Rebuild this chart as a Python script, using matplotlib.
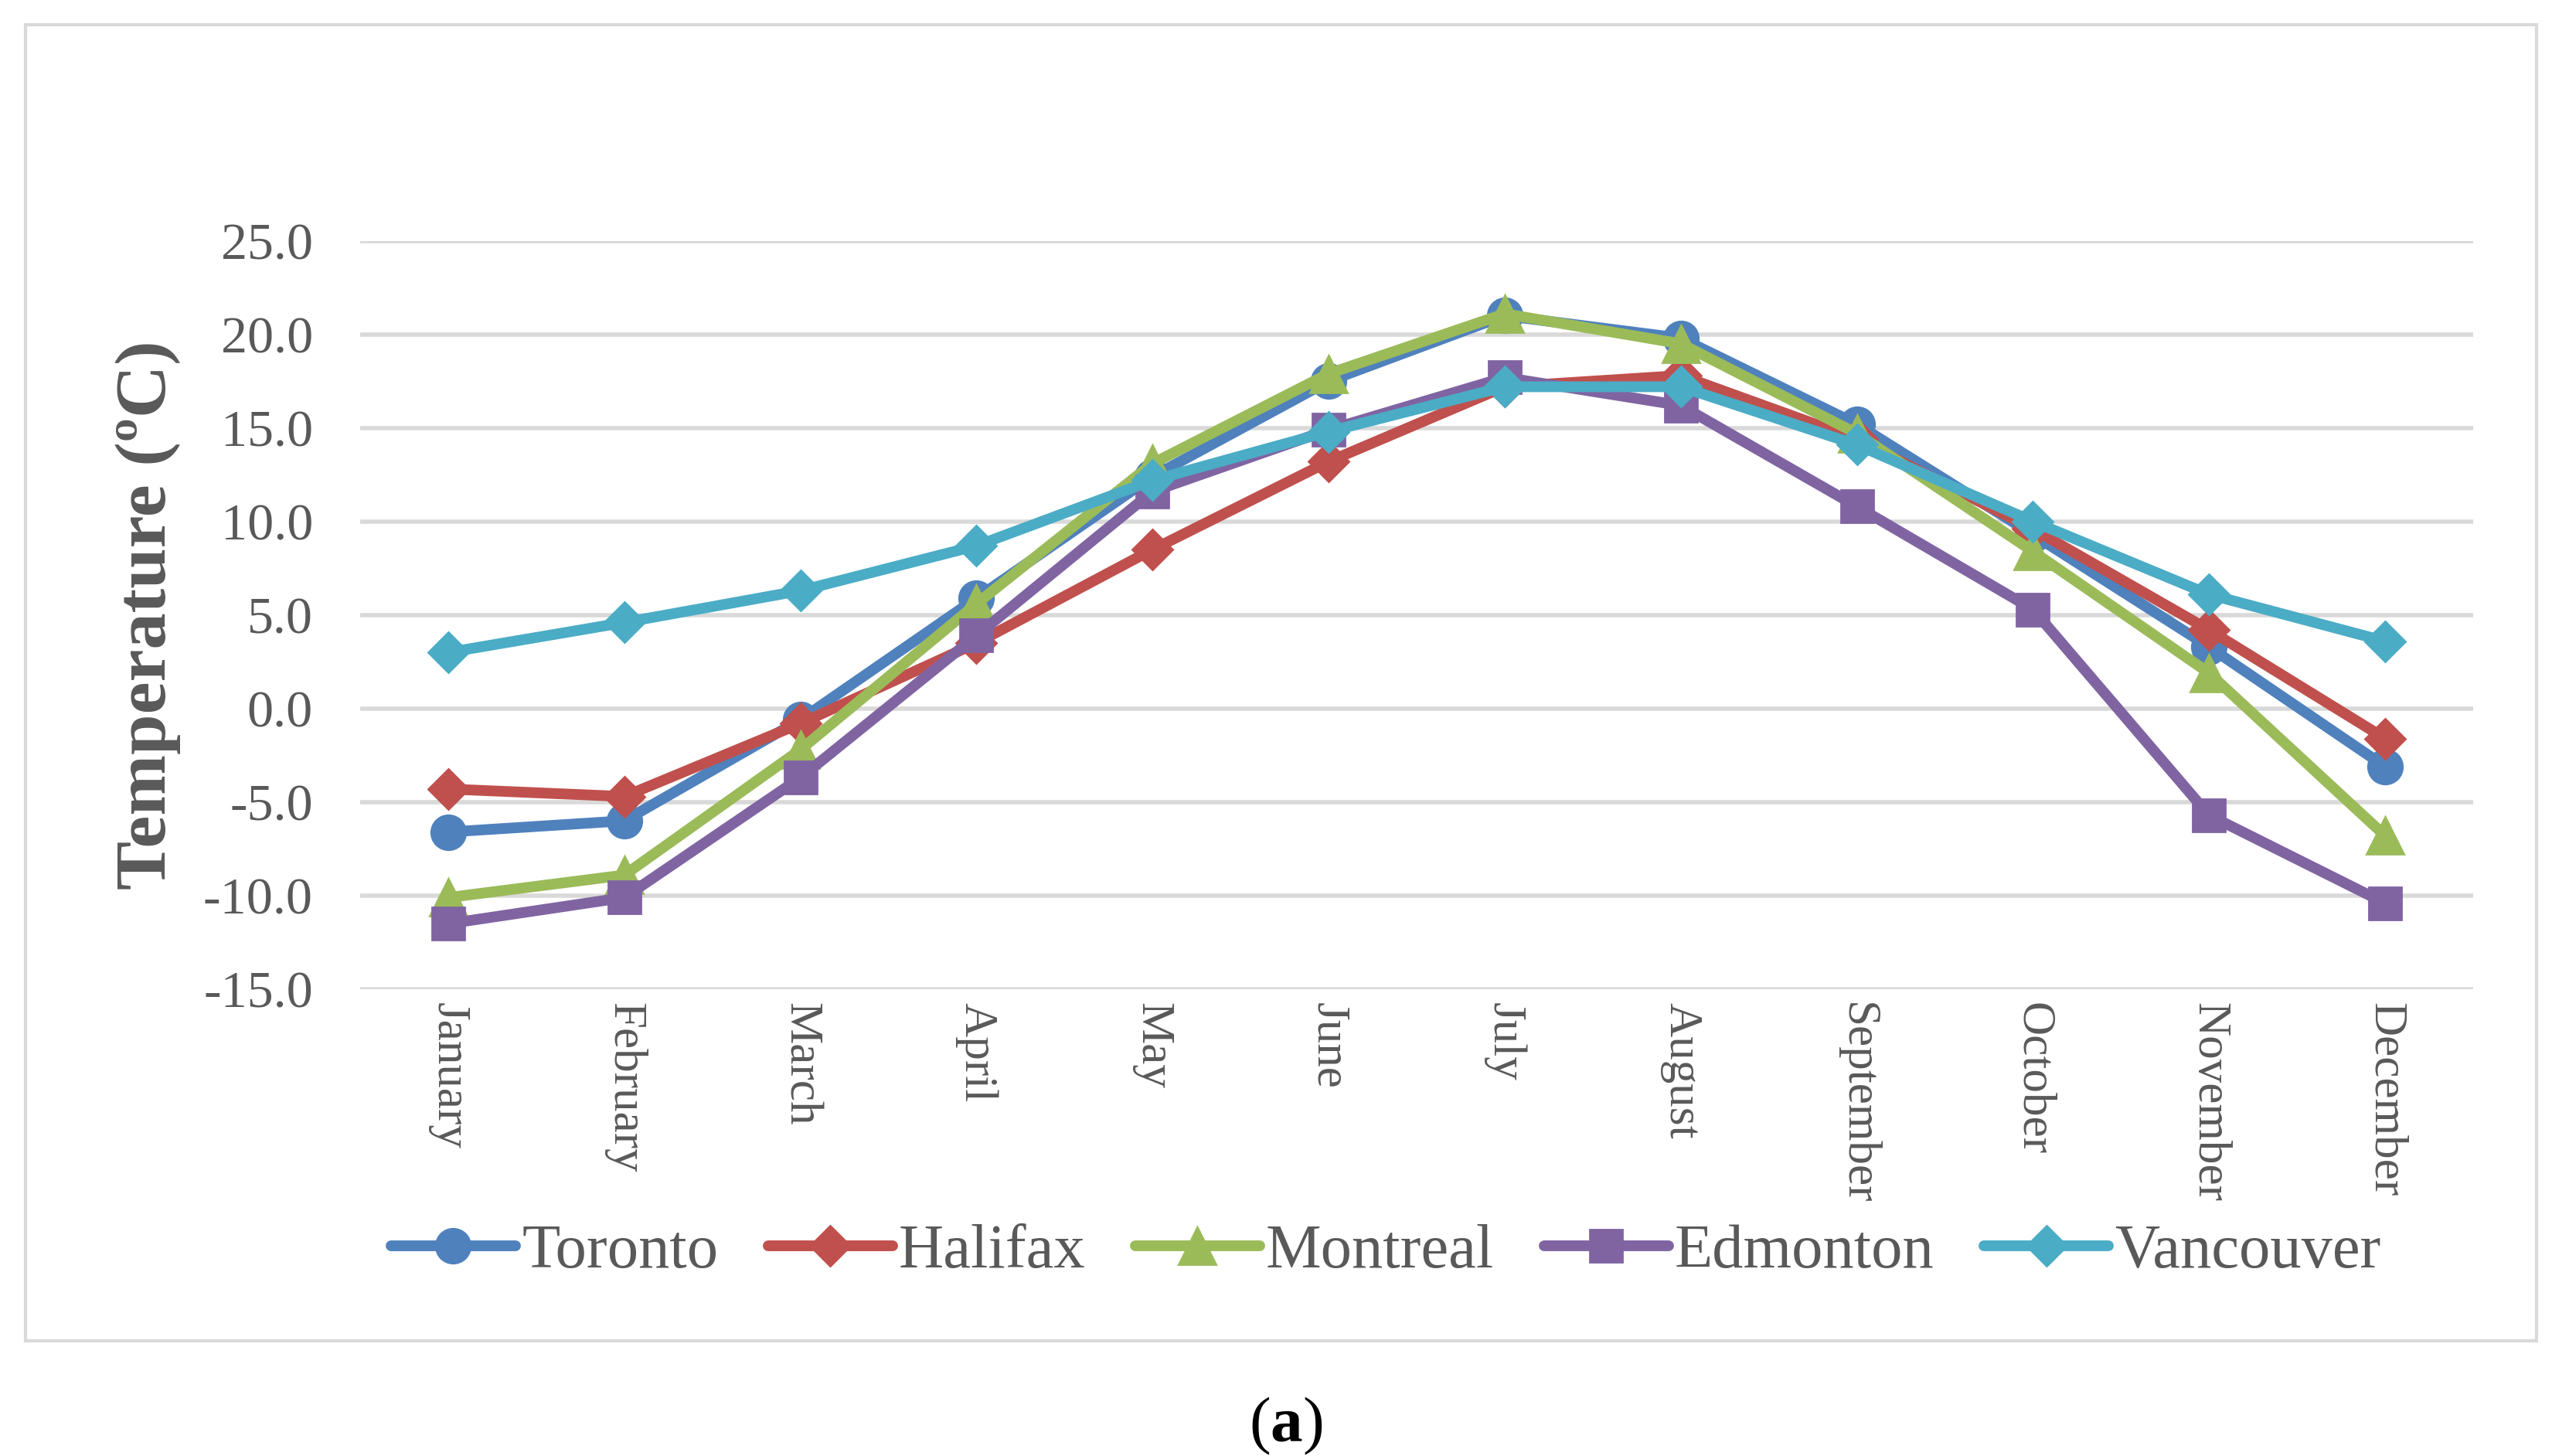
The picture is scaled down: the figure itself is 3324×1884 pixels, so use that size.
import matplotlib
matplotlib.use("Agg")
import matplotlib.pyplot as plt
from matplotlib.patches import Rectangle

months = ["January", "February", "March", "April", "May", "June", "July",
          "August", "September", "October", "November", "December"]

toronto = [-6.6, -6.0, -0.6, 5.9, 12.4, 17.5, 21.0, 19.8, 15.2, 9.3, 3.3, -3.1]
halifax = [-4.3, -4.7, -0.8, 3.5, 8.5, 13.2, 17.2, 17.8, 14.4, 9.6, 4.2, -1.6]
montreal = [-10.1, -8.9, -2.2, 5.6, 13.1, 17.9, 21.1, 19.5, 14.7, 8.4, 1.9, -6.8]
edmonton = [-11.5, -10.1, -3.7, 3.9, 11.6, 14.9, 17.7, 16.2, 10.8, 5.3, -5.7, -10.4]
vancouver = [3.0, 4.6, 6.3, 8.7, 12.2, 14.8, 17.2, 17.2, 14.1, 10.0, 6.1, 3.6]

series = [
    ("Toronto", toronto, "#4f81bd", "o", 16),
    ("Halifax", halifax, "#c0504d", "D", 13),
    ("Montreal", montreal, "#9bbb59", "^", 17),
    ("Edmonton", edmonton, "#8064a2", "s", 15),
    ("Vancouver", vancouver, "#4bacc6", "D", 13),
]

text_col = "#595959"
grid_col = "#d9d9d9"
serif = ["Liberation Serif", "DejaVu Serif"]

plt.rcParams["font.family"] = serif
plt.rcParams["mathtext.fontset"] = "custom"
plt.rcParams["mathtext.rm"] = "Liberation Serif"
plt.rcParams["mathtext.bf"] = "Liberation Serif:bold"

fig = plt.figure(figsize=(16.62, 9.42), dpi=200)
ax = fig.add_axes([0.1402, 0.3206, 0.8225, 0.514])

x = list(range(len(months)))
for name, vals, col, mk, ms in series:
    ax.plot(x, vals, color=col, lw=5, marker=mk, markersize=ms,
            markerfacecolor=col, markeredgecolor=col, label=name,
            solid_joinstyle="round", solid_capstyle="round")

ax.set_xlim(-0.5, len(months) - 0.5)
ax.set_ylim(-15, 25)
ax.set_yticks(range(-15, 30, 5))
ax.set_yticklabels([f"{v:.1f}" for v in range(-15, 30, 5)])
ax.set_xticks(x)
ax.set_xticklabels(months, rotation=-90, ha="center", va="top")
ax.tick_params(axis="x", length=0, pad=6, labelsize=22, labelcolor=text_col)
ax.tick_params(axis="y", length=0, pad=22, labelsize=24.5, labelcolor=text_col)
ax.grid(axis="y", color=grid_col, lw=2)
ax.set_axisbelow(True)
for s in ax.spines.values():
    s.set_visible(False)

ax.set_ylabel("Temperature (ºC)", fontsize=34, fontweight="bold", color=text_col)
ax.yaxis.set_label_coords(-0.085, 0.5)

fig.legend(loc="center", bbox_to_anchor=(0.5395, 0.1401), ncol=5, frameon=False,
           fontsize=29, handlelength=2.0, handletextpad=0.1, columnspacing=0.8,
           labelcolor=text_col)

# outer chart frame
fig.patches.append(Rectangle((33 / 3324, 1 - 1735 / 1884), (3282 - 33) / 3324,
                             (1735 - 32) / 1884, transform=fig.transFigure,
                             fill=False, edgecolor=grid_col, lw=1.5))

fig.text(0.5006, 0.0207, r"$\mathrm{(}\mathbf{a}\mathrm{)}$", ha="center",
         va="center", fontsize=30, color="black")

fig.savefig("out.png", dpi=200, facecolor="white")
